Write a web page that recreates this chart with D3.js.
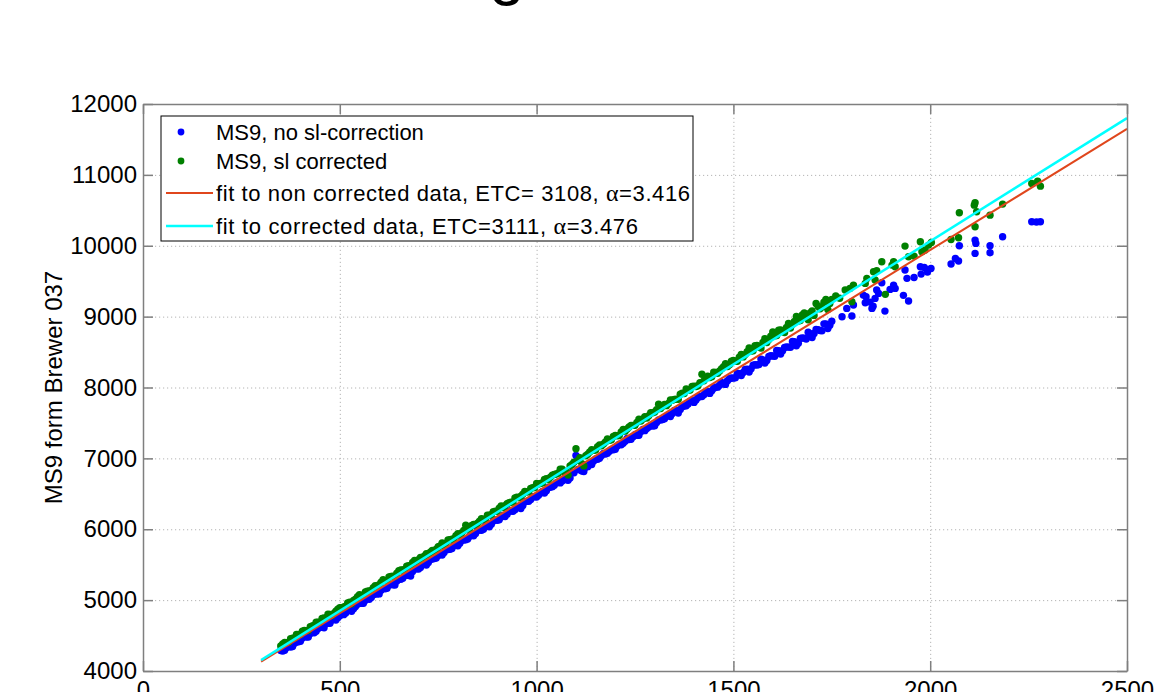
<!DOCTYPE html>
<html><head><meta charset="utf-8">
<script src="https://cdn.jsdelivr.net/npm/d3@7"></script>
<style>
body{margin:0;background:#fff}
svg{display:block}
text{font-family:"Liberation Sans",Arial,sans-serif;fill:#000}
</style>
</head><body>
<svg id="c" width="1158" height="692"></svg>
<script>
const xTicks=[0,500,1000,1500,2000,2500];
const yTicks=[4000,5000,6000,7000,8000,9000,10000,11000,12000];
const titleText="g";
const yLabel="MS9 form Brewer 037";
const legendLabels=["MS9, no sl-correction","MS9, sl corrected","fit to non corrected data, ETC= 3108, ","fit to corrected data, ETC=3111, "];
const legendAlpha=["","","3.416","3.476"];
const legendWidths=[0,0,474,422];

// MS9, no sl-correction (x, y)
const blue=[[350,4289],[360,4293],[370,4347],[380,4346],[390,4410],[400,4419],[410,4489],[420,4478],[430,4542],[440,4561],[450,4627],[460,4609],[470,4674],[480,4720],[490,4720],[500,4781],[510,4795],[520,4864],[530,4843],[540,4911],[550,4957],[560,4956],[570,5030],[580,5037],[590,5085],[600,5088],[610,5170],[620,5168],[630,5220],[640,5214],[650,5298],[660,5308],[670,5352],[680,5341],[690,5440],[700,5439],[710,5498],[720,5496],[730,5574],[740,5586],[750,5630],[760,5636],[770,5716],[780,5717],[790,5772],[800,5766],[810,5845],[820,5851],[830,5901],[840,5907],[850,5987],[860,5986],[870,6042],[880,6034],[890,6118],[900,6127],[910,6172],[920,6179],[930,6257],[940,6254],[950,6313],[960,6292],[970,6387],[980,6396],[990,6460],[1000,6454],[1010,6513],[1020,6512],[1030,6591],[1040,6601],[1050,6655],[1060,6654],[1070,6713],[1080,6692],[1090,6801],[1100,7041],[1110,6840],[1120,6814],[1130,6883],[1140,6912],[1150,6991],[1160,7001],[1170,7070],[1180,7074],[1190,7125],[1200,7127],[1210,7201],[1220,7214],[1230,7280],[1240,7269],[1250,7333],[1260,7327],[1270,7408],[1280,7420],[1290,7465],[1300,7459],[1310,7543],[1320,7547],[1330,7596],[1340,7590],[1350,7675],[1360,7639],[1370,7728],[1380,7742],[1390,7806],[1400,7790],[1410,7860],[1420,7874],[1430,7938],[1440,7917],[1450,7991],[1460,8005],[1470,8070],[1480,8044],[1490,8123],[1500,8132],[1510,8201],[1520,8170],[1530,8254],[1540,8219],[1550,8313],[1560,8317],[1570,8401],[1580,8345],[1590,8439],[1600,8444],[1610,8523],[1620,8472],[1630,8566],[1640,8570],[1650,8649],[1660,8589],[1670,8693],[1680,8697],[1690,8781],[1700,8705],[1710,8819],[1720,8804],[1730,8898],[1740,8832],[1750,8936],
[355,4283],[365,4333],[375,4339],[385,4393],[395,4412],[405,4466],[415,4478],[425,4530],[435,4539],[445,4600],[455,4617],[465,4666],[475,4673],[485,4730],[495,4751],[505,4808],[515,4817],[525,4866],[535,4880],[545,4942],[555,4954],[565,4998],[575,5012],[585,5076],[595,5088],[605,5140],[615,5161],[625,5213],[635,5217],[645,5271],[655,5293],[665,5350],[675,5349],[685,5403],[695,5442],[705,5461],[715,5520],[725,5530],[735,5579],[745,5593],[755,5655],[765,5671],[775,5715],[785,5727],[795,5786],[805,5803],[815,5847],[825,5861],[835,5925],[845,5939],[855,5989],[865,6001],[875,6052],[885,6071],[895,6130],[905,6134],[915,6196],[925,6213],[935,6257],[945,6274],[955,6325],[965,6334],[975,6394],[985,6418],[995,6459],[1005,6479],[1015,6535],[1025,6544],[1035,6593],[1045,6620],[1055,6667],[1065,6681],[1075,6700],[1085,6724],[1095,6798],[1105,6843],[1115,6822],[1125,6876],[1135,6925],[1145,6964],[1155,6988],[1165,7040],[1175,7062],[1185,7101],[1195,7122],[1205,7174],[1215,7193],[1225,7241],[1235,7267],[1245,7306],[1255,7325],[1265,7379],[1275,7391],[1285,7443],[1295,7457],[1305,7506],[1315,7542],[1325,7559],[1335,7606],[1345,7633],[1355,7677],[1365,7691],[1375,7740],[1385,7767],[1395,7813],[1405,7823],[1415,7872],[1425,7896],[1435,7945],[1445,7954],[1455,8003],[1465,8033],[1475,8052],[1485,8096],[1495,8135],[1505,8139],[1515,8193],[1525,8212],[1535,8257],[1545,8266],[1555,8320],[1565,8324],[1575,8388],[1585,8382],[1595,8447],[1605,8441],[1615,8520],[1625,8519],[1635,8573],[1645,8567],[1655,8647],[1665,8626],[1675,8700],[1685,8684],[1695,8758],[1705,8762],[1715,8817],[1725,8801],[1735,8895],[1745,8879],
[1776,8999],[1788,9116],[1801,9008],[1805,9163],[1830,9304],[1835,9196],[1837,9281],[1847,9205],[1852,9116],[1855,9148],[1860,9257],[1864,9375],[1869,9328],[1877,9478],[1885,9078],[1898,9384],[1907,9445],[1911,9398],[1932,9300],[1936,9657],[1941,9540],[1945,9220],[1959,9553],[1975,9704],[1977,9600],[1985,9694],[1993,9657],[1993,9628],[2002,9680],[2053,9742],[2064,9821],[2072,9784],[2074,10000],[2114,10080],[2116,10033],[2114,9892],[2152,10000],[2152,9901],[2184,10127],[2258,10338],[2270,10335],[2280,10338]];

// MS9, sl corrected (x, y)
const green=[[350,4353],[360,4402],[370,4407],[380,4462],[390,4517],[400,4516],[410,4571],[420,4571],[430,4634],[440,4688],[450,4687],[460,4748],[470,4800],[480,4784],[490,4844],[500,4894],[510,4902],[520,4959],[530,4948],[540,5013],[550,5075],[560,5073],[570,5127],[580,5135],[590,5204],[600,5219],[610,5289],[620,5276],[630,5333],[640,5336],[650,5415],[660,5425],[670,5478],[680,5480],[690,5559],[700,5569],[710,5591],[720,5654],[730,5676],[740,5677],[750,5753],[760,5808],[770,5803],[780,5852],[790,5865],[800,5937],[810,5949],[820,6056],[830,6006],[840,6066],[850,6084],[860,6148],[870,6137],[880,6200],[890,6247],[900,6254],[910,6329],[920,6334],[930,6374],[940,6383],[950,6453],[960,6468],[970,6533],[980,6527],[990,6587],[1000,6647],[1010,6647],[1020,6702],[1030,6699],[1040,6764],[1050,6779],[1060,6846],[1070,6810],[1080,6765],[1090,6915],[1100,7135],[1110,7009],[1120,6894],[1130,7059],[1140,7124],[1150,7118],[1160,7188],[1170,7203],[1180,7273],[1190,7262],[1200,7322],[1210,7322],[1220,7407],[1230,7414],[1240,7466],[1250,7468],[1260,7553],[1270,7556],[1280,7568],[1290,7643],[1300,7655],[1310,7765],[1320,7734],[1330,7744],[1340,7824],[1350,7832],[1360,7833],[1370,7918],[1380,7978],[1390,7963],[1400,8017],[1410,8024],[1420,8187],[1430,8132],[1440,8141],[1450,8216],[1460,8201],[1470,8266],[1480,8335],[1490,8320],[1500,8380],[1510,8370],[1520,8465],[1530,8464],[1540,8559],[1550,8519],[1560,8594],[1570,8558],[1580,8688],[1590,8678],[1600,8783],[1610,8732],[1620,8812],[1630,8777],[1640,8902],[1650,8891],[1660,9001],[1670,8946],[1680,9051],[1690,8955],[1700,9080],[1710,9185],[1720,9110],[1730,9204],[1740,9099],[1750,9244],
[355,4380],[365,4399],[375,4456],[385,4467],[395,4514],[405,4563],[415,4568],[425,4626],[435,4645],[445,4687],[455,4740],[465,4747],[475,4797],[485,4811],[495,4871],[505,4894],[515,4913],[525,4971],[535,4995],[545,5050],[555,5058],[565,5115],[575,5129],[585,5176],[595,5194],[605,5254],[615,5273],[625,5328],[635,5338],[645,5381],[655,5425],[665,5434],[675,5487],[685,5532],[695,5544],[705,5603],[715,5624],[725,5646],[735,5700],[745,5720],[755,5765],[765,5785],[775,5850],[785,5861],[795,5909],[805,5927],[815,5984],[825,6003],[835,6055],[845,6063],[855,6113],[865,6139],[875,6197],[885,6205],[895,6254],[905,6296],[915,6306],[925,6361],[935,6383],[945,6440],[955,6445],[965,6495],[975,6528],[985,6576],[995,6589],[1005,6639],[1015,6654],[1025,6714],[1035,6733],[1045,6773],[1055,6790],[1065,6848],[1075,6807],[1085,6892],[1095,6947],[1105,6972],[1115,6926],[1125,7036],[1135,7091],[1145,7113],[1155,7165],[1165,7178],[1175,7230],[1185,7255],[1195,7309],[1205,7319],[1215,7372],[1225,7384],[1235,7443],[1245,7466],[1255,7508],[1265,7526],[1275,7588],[1285,7602],[1295,7642],[1305,7687],[1315,7702],[1325,7761],[1335,7776],[1345,7821],[1355,7836],[1365,7905],[1375,7915],[1385,7960],[1395,8015],[1405,8014],[1415,8069],[1425,8094],[1435,8159],[1445,8153],[1455,8213],[1465,8233],[1475,8293],[1485,8297],[1495,8372],[1505,8372],[1515,8427],[1525,8432],[1535,8506],[1545,8516],[1555,8591],[1565,8576],[1575,8635],[1585,8635],[1595,8725],[1605,8730],[1615,8809],[1625,8789],[1635,8849],[1645,8839],[1655,8933],[1665,8938],[1675,9023],[1685,8988],[1695,9052],[1705,9017],[1715,9147],[1725,9137],[1735,9241],[1745,9186],
[1760,9290],[1770,9260],[1784,9375],[1796,9398],[1801,9210],[1805,9445],[1835,9469],[1839,9539],[1856,9633],[1864,9647],[1860,9516],[1877,9774],[1886,9314],[1903,9727],[1907,9774],[1911,9704],[1936,9995],[1945,9845],[1959,9854],[1975,10056],[1979,9915],[1987,9939],[1996,10009],[2003,10047],[2053,10089],[2072,10113],[2074,10465],[2112,10573],[2114,10606],[2118,10479],[2114,10268],[2152,10432],[2184,10588],[2258,10879],[2273,10912],[2280,10841]];

// fitted lines (end points)
const fitX=[300,2500];
const fitRedY=[4133,11648];
const fitCyanY=[4154,11801];

const svg=d3.select('#c');
const m={l:143,r:1127,t:104,b:671};
const x=d3.scaleLinear().domain([0,2500]).range([m.l,m.r]);
const y=d3.scaleLinear().domain([4000,12000]).range([m.b,m.t]);
const axisCol='#7f7f7f';

// title (cropped)
svg.append('text').attr('x',507).attr('y',-7).attr('text-anchor','middle')
  .style('font-size','64px').text(titleText);

// grid
const gx=svg.append('g').attr('transform',`translate(0,${m.b})`)
  .call(d3.axisBottom(x).tickValues(xTicks.slice(1,-1)).tickSize(-(m.b-m.t)).tickFormat(''));
gx.select('.domain').remove();
gx.selectAll('line').attr('stroke','#b4b4b4').attr('stroke-dasharray','1.2,2.8');
const gy=svg.append('g').attr('transform',`translate(${m.l},0)`)
  .call(d3.axisLeft(y).tickValues(yTicks.slice(1,-1)).tickSize(-(m.r-m.l)).tickFormat(''));
gy.select('.domain').remove();
gy.selectAll('line').attr('stroke','#b4b4b4').attr('stroke-dasharray','1.2,2.8');

// points
svg.append('g').selectAll('circle').data(blue).join('circle')
  .attr('cx',d=>x(d[0])).attr('cy',d=>y(d[1])).attr('r',3.7).attr('fill','#0000ff');
svg.append('g').selectAll('circle').data(green).join('circle')
  .attr('cx',d=>x(d[0])).attr('cy',d=>y(d[1])).attr('r',3.7).attr('fill','#008000');

// fit lines
const line=d3.line().x(d=>x(d[0])).y(d=>y(d[1]));
svg.append('path').datum(fitX.map((v,i)=>[v,fitRedY[i]])).attr('d',line)
  .attr('stroke','#e0461c').attr('stroke-width',2).attr('fill','none');
svg.append('path').datum(fitX.map((v,i)=>[v,fitCyanY[i]])).attr('d',line)
  .attr('stroke','#00ffff').attr('stroke-width',2.5).attr('fill','none');

// axes
function styleAxis(g){
  g.select('.domain').attr('stroke',axisCol).attr('stroke-width',1.5);
  g.selectAll('.tick line').attr('stroke',axisCol).attr('stroke-width',1.5);
  g.selectAll('.tick text').style('font-size','24px').attr('fill','#000');
}
svg.append('g').attr('transform',`translate(0,${m.b})`)
  .call(d3.axisBottom(x).tickValues(xTicks).tickSize(-10).tickSizeOuter(0).tickPadding(10).tickFormat(d3.format('d')))
  .call(styleAxis);
svg.append('g').attr('transform',`translate(${m.l},0)`)
  .call(d3.axisLeft(y).tickValues(yTicks).tickSize(-10).tickSizeOuter(0).tickPadding(6).tickFormat(d3.format('d')))
  .call(styleAxis);
svg.append('g').attr('transform',`translate(0,${m.t})`)
  .call(d3.axisTop(x).tickValues(xTicks).tickSize(-10).tickSizeOuter(0).tickFormat(''))
  .call(styleAxis);
svg.append('g').attr('transform',`translate(${m.r},0)`)
  .call(d3.axisRight(y).tickValues(yTicks).tickSize(-10).tickSizeOuter(0).tickFormat(''))
  .call(styleAxis);

// y label
svg.append('text').attr('transform',`translate(62,${(m.t+m.b)/2}) rotate(-90)`)
  .attr('text-anchor','middle').style('font-size','24px').text(yLabel);

// legend
const lg=svg.append('g');
lg.append('rect').attr('x',161).attr('y',116).attr('width',532).attr('height',125)
  .attr('fill','#fff').attr('stroke','#000').attr('stroke-width',1);
const rowsY=[132,161,193,226];
lg.append('circle').attr('cx',181).attr('cy',rowsY[0]).attr('r',3.4).attr('fill','#0000ff');
lg.append('circle').attr('cx',181).attr('cy',rowsY[1]).attr('r',3.4).attr('fill','#008000');
lg.append('line').attr('x1',166).attr('x2',213).attr('y1',rowsY[2]).attr('y2',rowsY[2]).attr('stroke','#e0461c').attr('stroke-width',2);
lg.append('line').attr('x1',166).attr('x2',213).attr('y1',rowsY[3]).attr('y2',rowsY[3]).attr('stroke','#00ffff').attr('stroke-width',2.5);
legendLabels.forEach((t,i)=>{
  const tx=lg.append('text').attr('x',216).attr('y',rowsY[i]).attr('dy','0.36em').style('font-size','22px');
  tx.append('tspan').text(t);
  if(legendAlpha[i]){
    tx.append('tspan').style('font-family','"Liberation Serif",serif').style('font-size','24px').text('α');
    tx.append('tspan').text('='+legendAlpha[i]);
    tx.attr('textLength',legendWidths[i]).attr('lengthAdjust','spacing');
  }
});
</script>
</body></html>
